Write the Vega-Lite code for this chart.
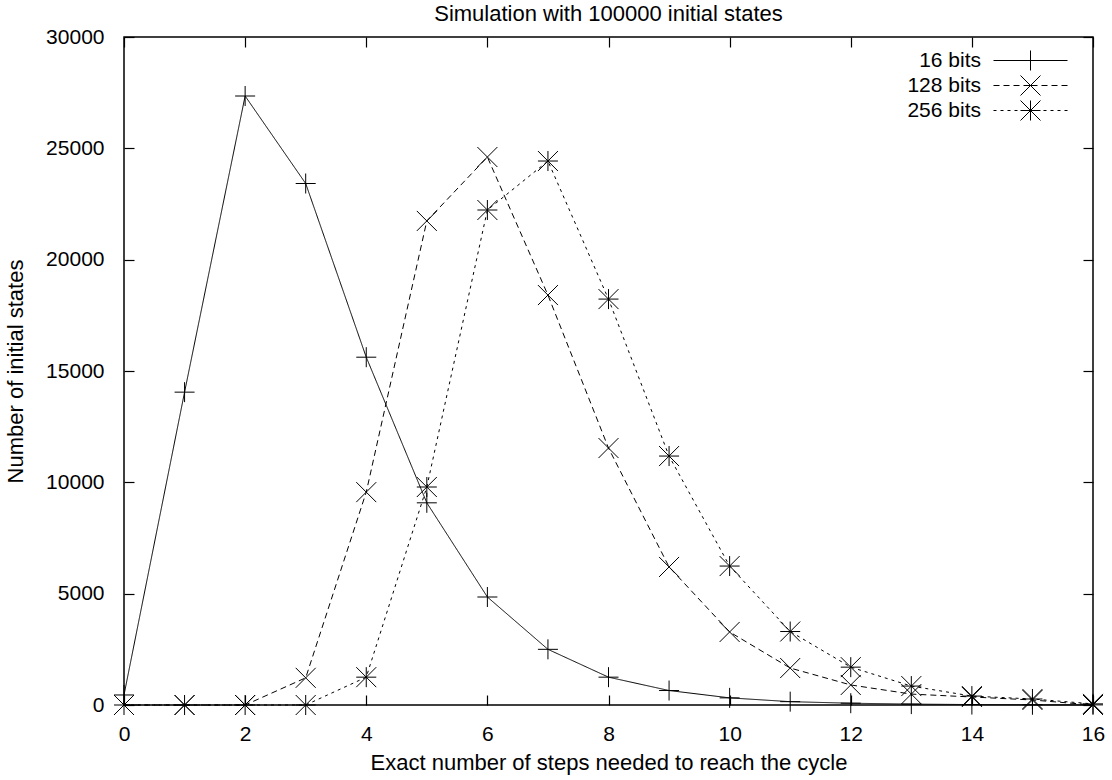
{
  "$schema": "https://vega.github.io/schema/vega-lite/v6.json",
  "autosize": "none",
  "width": 969,
  "height": 668,
  "padding": {"left": 124, "top": 37, "right": 19, "bottom": 75},
  "background": "white",
  "config": {
    "font": "Liberation Sans",
    "view": {"stroke": "black", "strokeWidth": 1.5},
    "axis": {"grid": false, "domain": false, "tickColor": "black", "labelColor": "black", "titleColor": "black", "labelFontSize": 21, "titleFontSize": 22, "titleFontWeight": "normal", "tickSize": -10, "tickWidth": 1.2, "labelFlush": false},
    "legend": {"labelFontSize": 21, "labelColor": "black"}
  },
  "title": {"text": "Simulation with 100000 initial states", "fontSize": 22, "fontWeight": "normal", "color": "black", "offset": 0, "font": "Liberation Sans"},
  "data": {"values": [
    {"steps": 0, "series": "16 bits", "count": 450},
    {"steps": 1, "series": "16 bits", "count": 14050},
    {"steps": 2, "series": "16 bits", "count": 27350},
    {"steps": 3, "series": "16 bits", "count": 23420},
    {"steps": 4, "series": "16 bits", "count": 15620},
    {"steps": 5, "series": "16 bits", "count": 9080},
    {"steps": 6, "series": "16 bits", "count": 4850},
    {"steps": 7, "series": "16 bits", "count": 2500},
    {"steps": 8, "series": "16 bits", "count": 1250},
    {"steps": 9, "series": "16 bits", "count": 650},
    {"steps": 10, "series": "16 bits", "count": 320},
    {"steps": 11, "series": "16 bits", "count": 150},
    {"steps": 12, "series": "16 bits", "count": 80},
    {"steps": 13, "series": "16 bits", "count": 40},
    {"steps": 14, "series": "16 bits", "count": 20},
    {"steps": 15, "series": "16 bits", "count": 10},
    {"steps": 16, "series": "16 bits", "count": 5},
    {"steps": 0, "series": "128 bits", "count": 0},
    {"steps": 1, "series": "128 bits", "count": 0},
    {"steps": 2, "series": "128 bits", "count": 0},
    {"steps": 3, "series": "128 bits", "count": 1220},
    {"steps": 4, "series": "128 bits", "count": 9560},
    {"steps": 5, "series": "128 bits", "count": 21740},
    {"steps": 6, "series": "128 bits", "count": 24610},
    {"steps": 7, "series": "128 bits", "count": 18410},
    {"steps": 8, "series": "128 bits", "count": 11540},
    {"steps": 9, "series": "128 bits", "count": 6200},
    {"steps": 10, "series": "128 bits", "count": 3280},
    {"steps": 11, "series": "128 bits", "count": 1660},
    {"steps": 12, "series": "128 bits", "count": 900},
    {"steps": 13, "series": "128 bits", "count": 490},
    {"steps": 14, "series": "128 bits", "count": 360},
    {"steps": 15, "series": "128 bits", "count": 225},
    {"steps": 16, "series": "128 bits", "count": 0},
    {"steps": 0, "series": "256 bits", "count": 0},
    {"steps": 1, "series": "256 bits", "count": 0},
    {"steps": 2, "series": "256 bits", "count": 0},
    {"steps": 3, "series": "256 bits", "count": 0},
    {"steps": 4, "series": "256 bits", "count": 1250},
    {"steps": 5, "series": "256 bits", "count": 9790},
    {"steps": 6, "series": "256 bits", "count": 22230},
    {"steps": 7, "series": "256 bits", "count": 24430},
    {"steps": 8, "series": "256 bits", "count": 18230},
    {"steps": 9, "series": "256 bits", "count": 11180},
    {"steps": 10, "series": "256 bits", "count": 6240},
    {"steps": 11, "series": "256 bits", "count": 3300},
    {"steps": 12, "series": "256 bits", "count": 1700},
    {"steps": 13, "series": "256 bits", "count": 850},
    {"steps": 14, "series": "256 bits", "count": 400},
    {"steps": 15, "series": "256 bits", "count": 270},
    {"steps": 16, "series": "256 bits", "count": 50}
  ]},
  "layer": [
    {
      "mark": {"type": "line", "color": "black", "strokeWidth": 1, "interpolate": "linear"},
      "encoding": {
        "x": {"field": "steps", "type": "quantitative", "scale": {"domain": [0, 16], "nice": false, "zero": false}, "axis": {"values": [0, 2, 4, 6, 8, 10, 12, 14, 16], "title": "Exact number of steps needed to reach the cycle", "labelPadding": 28, "titlePadding": 8}},
        "y": {"field": "count", "type": "quantitative", "scale": {"domain": [0, 30000], "nice": false}, "axis": {"values": [0, 5000, 10000, 15000, 20000, 25000, 30000], "format": "d", "title": "Number of initial states", "labelPadding": 30, "titlePadding": 18}},
        "detail": {"field": "series"},
        "strokeDash": {"field": "series", "type": "nominal", "scale": {"domain": ["16 bits", "128 bits", "256 bits"], "range": [[1, 0], [6, 4], [3, 4]]}, "legend": null}
      }
    },
    {
      "mark": {"type": "point", "filled": false, "color": "black", "strokeWidth": 1, "size": 400, "opacity": 1},
      "encoding": {
        "x": {"field": "steps", "type": "quantitative", "axis": {"orient": "top", "values": [0, 2, 4, 6, 8, 10, 12, 14, 16], "labels": false, "title": null}},
        "y": {"field": "count", "type": "quantitative", "axis": {"orient": "right", "values": [0, 5000, 10000, 15000, 20000, 25000, 30000], "labels": false, "title": null}},
        "shape": {"field": "series", "type": "nominal", "scale": {"domain": ["16 bits", "128 bits", "256 bits"], "range": ["M-1,0L1,0M0,-1L0,1", "M-1,-1L1,1M-1,1L1,-1", "M-1,0L1,0M0,-1L0,1M-1,-1L1,1M-1,1L1,-1"]}, "legend": null}
      }
    },
    {
      "transform": [{"filter": "datum.steps < 0"}],
      "mark": {"type": "point", "filled": false, "color": "black", "strokeWidth": 1, "size": 400, "opacity": 1},
      "encoding": {
        "x": {"field": "steps", "type": "quantitative", "axis": null},
        "y": {"field": "count", "type": "quantitative", "axis": null},
        "shape": {"field": "series", "type": "nominal", "scale": {"domain": ["16 bits", "128 bits", "256 bits"], "range": ["M-3.7,0L3.7,0M0,-1L0,1", "M-3.7,0L-3.1,0M-2.7,0L-2.1,0M-1.7,0L-1.1,0M-0.7,0L0.7,0M1.1,0L1.7,0M2.1,0L2.7,0M3.1,0L3.7,0M-1,-1L1,1M-1,1L1,-1", "M-3.7,0L-3.4,0M-3,0L-2.7,0M-2.3,0L-2,0M-1.6,0L-1.3,0M-0.9,0L0.9,0M1.3,0L1.6,0M2,0L2.3,0M2.7,0L3,0M3.4,0L3.7,0M-1,0L1,0M0,-1L0,1M-1,-1L1,1M-1,1L1,-1"]}, "legend": {"title": null, "orient": "none", "legendX": 896, "legendY": 13, "symbolSize": 400, "symbolStrokeColor": "black", "symbolStrokeWidth": 1, "symbolFillColor": "transparent", "symbolOpacity": 1, "rowPadding": 0, "labelAlign": "right", "labelOffset": -60}}
      }
    }
  ],
  "resolve": {"axis": {"x": "independent", "y": "independent"}, "scale": {"shape": "independent"}, "legend": {"shape": "independent", "strokeDash": "independent"}}
}
